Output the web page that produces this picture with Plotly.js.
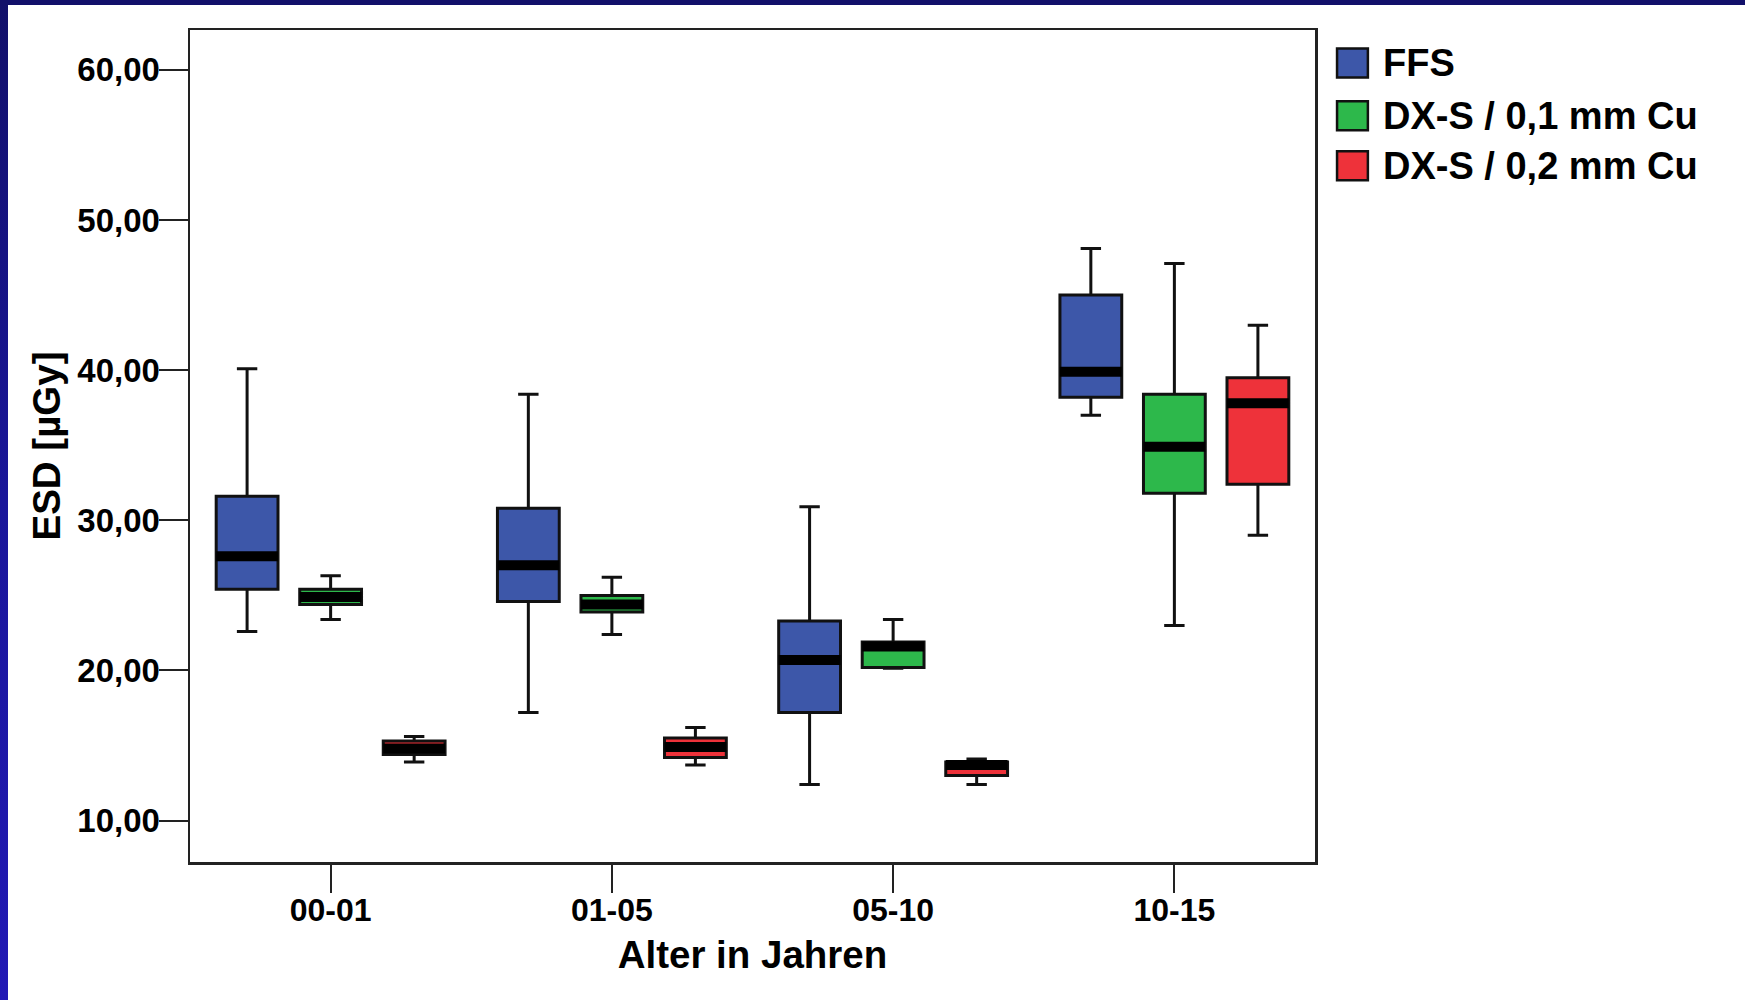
<!DOCTYPE html>
<html>
<head>
<meta charset="utf-8">
<script src="https://cdn.plot.ly/plotly-3.0.1.min.js"></script>
<style>
  html, body { margin: 0; padding: 0; width: 1745px; height: 1000px; overflow: hidden; }
  body { background: linear-gradient(to bottom, #12106a 0%, #1a169a 50%, #2219b5 100%); position: relative; }
  #topband { position: absolute; left: 0; top: 0; width: 1745px; height: 5px; background: #12106a; }
  #chart { position: absolute; left: 8px; top: 5px; width: 1737px; height: 995px; background: #ffffff; }
</style>
</head>
<body>
<div id="topband"></div>
<div id="chart"></div>
<script>
// ---- data ----
const categories = ['00-01', '01-05', '05-10', '10-15'];
const seriesNames = ['FFS', 'DX-S / 0,1 mm Cu', 'DX-S / 0,2 mm Cu'];
const seriesColors = ['#3D57A9', '#2DB84B', '#EE323A'];

const ffsLower  = [22.6, 17.2, 12.4, 37.0];
const ffsQ1     = [25.4, 24.6, 17.2, 38.2];
const ffsMedian = [27.6, 27.0, 20.7, 39.9];
const ffsQ3     = [31.6, 30.8, 23.3, 45.0];
const ffsUpper  = [40.1, 38.4, 30.9, 48.1];

const dx1Lower  = [23.4, 22.4, 20.15, 23.0];
const dx1Q1     = [24.4, 23.9, 20.2, 31.8];
const dx1Median = [24.9, 24.4, 21.6, 34.9];
const dx1Q3     = [25.4, 25.0, 21.9, 38.4];
const dx1Upper  = [26.3, 26.2, 23.4, 47.1];

const dx2Lower  = [13.9, 13.7, 12.4, 29.0];
const dx2Q1     = [14.4, 14.2, 13.0, 32.4];
const dx2Median = [14.8, 14.9, 13.7, 37.8];
const dx2Q3     = [15.3, 15.5, 13.9, 39.5];
const dx2Upper  = [15.6, 16.2, 14.1, 43.0];

const yTickVals = [10, 20, 30, 40, 50, 60];

// ---- build ----
const stats = [
  {lower: ffsLower, q1: ffsQ1, med: ffsMedian, q3: ffsQ3, upper: ffsUpper},
  {lower: dx1Lower, q1: dx1Q1, med: dx1Median, q3: dx1Q3, upper: dx1Upper},
  {lower: dx2Lower, q1: dx2Q1, med: dx2Median, q3: dx2Q3, upper: dx2Upper}
];

const FONT = 'Liberation Sans, Arial, Helvetica, sans-serif';
const traces = [];
stats.forEach((s, i) => {
  traces.push({
    type: 'box',
    name: seriesNames[i],
    x: categories,
    lowerfence: s.lower, q1: s.q1, median: s.med, q3: s.q3, upperfence: s.upper,
    offsetgroup: 'g' + i,
    fillcolor: seriesColors[i],
    line: {color: '#111111', width: 3},
    whiskerwidth: 0.33,
    showlegend: false,
    hoverinfo: 'skip'
  });
});
// thick median bars drawn as degenerate boxes in the same offset groups
stats.forEach((s, i) => {
  traces.push({
    type: 'box',
    name: seriesNames[i] + ' median',
    x: categories,
    lowerfence: s.med, q1: s.med, median: s.med, q3: s.med, upperfence: s.med,
    offsetgroup: 'g' + i,
    fillcolor: '#000000',
    line: {color: '#000000', width: 10},
    whiskerwidth: 0,
    showlegend: false,
    hoverinfo: 'skip'
  });
});

// custom legend (large swatches)
const shapes = [];
const annotations = [];
const legendRowY = [0.9603, 0.897, 0.8368];
seriesNames.forEach((nm, i) => {
  shapes.push({
    type: 'rect', xref: 'paper', yref: 'paper',
    x0: 1.0196, x1: 1.047, y0: legendRowY[i] - 0.0175, y1: legendRowY[i] + 0.0175,
    fillcolor: seriesColors[i], line: {color: '#111111', width: 2.5}
  });
  annotations.push({
    xref: 'paper', yref: 'paper', x: 1.0585, y: legendRowY[i],
    xanchor: 'left', yanchor: 'middle', showarrow: false,
    text: nm, font: {family: FONT, size: 38, color: '#000000', weight: 'bold'}
  });
});

const layout = {
  width: 1737, height: 995,
  margin: {l: 182, r: 430, t: 25, b: 138},
  paper_bgcolor: '#ffffff', plot_bgcolor: '#ffffff',
  separators: ',.',
  boxmode: 'group', boxgap: 0.109, boxgroupgap: 0.26,
  showlegend: false,
  xaxis: {
    type: 'category',
    range: [-0.5, 3.5],
    showgrid: false, zeroline: false,
    ticks: 'outside', ticklen: 28, tickwidth: 2, tickcolor: '#222222',
    ticklabelstandoff: -10,
    showline: true, linecolor: '#222222', linewidth: 2.5, mirror: true,
    tickfont: {family: FONT, size: 32, color: '#000000', weight: 'bold'},
    title: {text: 'Alter in Jahren', font: {family: FONT, size: 38.5, color: '#000000', weight: 'bold'}, standoff: 14}
  },
  yaxis: {
    range: [7.24, 62.66],
    tickvals: yTickVals, tickformat: '.2f',
    showgrid: false, zeroline: false,
    ticks: 'outside', ticklen: 29, tickwidth: 2, tickcolor: '#222222',
    ticklabelstandoff: -8,
    showline: true, linecolor: '#222222', linewidth: 2.5, mirror: true,
    tickfont: {family: FONT, size: 33, color: '#000000', weight: 'bold'},
    title: {text: 'ESD [µGy]', font: {family: FONT, size: 38.5, color: '#000000', weight: 'bold'}, standoff: 5}
  },
  shapes: shapes,
  annotations: annotations
};

Plotly.newPlot('chart', traces, layout, {displayModeBar: false, staticPlot: true});
</script>
</body>
</html>
